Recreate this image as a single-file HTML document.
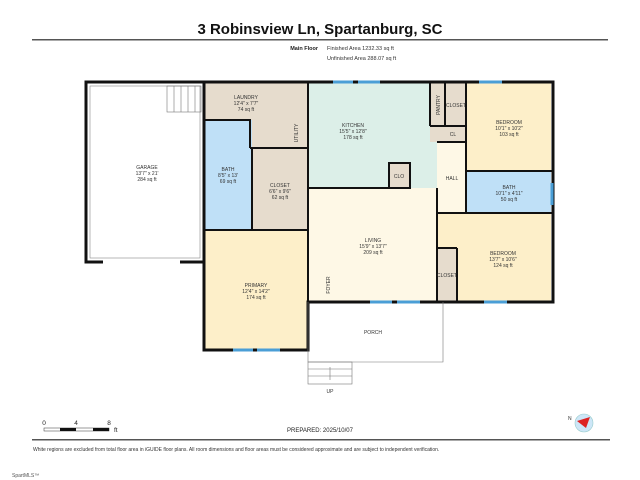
<!DOCTYPE html>
<html><head><meta charset="utf-8"><style>
body{margin:0;background:#fff;width:640px;height:480px;overflow:hidden}
svg{display:block;font-family:"Liberation Sans",sans-serif}
.l{font-size:5px;fill:#333;text-anchor:middle}
</style></head><body>
<svg width="640" height="480" viewBox="0 0 640 480">
<text x="320" y="34" font-size="15" font-weight="bold" text-anchor="middle" fill="#111">3 Robinsview Ln, Spartanburg, SC</text>
<rect x="32" y="39" width="576" height="1.5" fill="#555"/>
<text x="318" y="50" font-size="5.5" font-weight="bold" text-anchor="end" fill="#222">Main Floor</text>
<text x="327" y="50" font-size="5.5" fill="#333">Finished Area 1232.33 sq ft</text>
<text x="327" y="60" font-size="5.5" fill="#333">Unfinished Area 288.07 sq ft</text>

<rect x="86" y="82" width="118" height="180" fill="#fff"/>
<rect x="204" y="83" width="104" height="65" fill="#e6dccd"/>
<rect x="204" y="120" width="48" height="110" fill="#bfe0f7"/>
<rect x="252" y="148" width="56" height="82" fill="#e6dccd"/>
<rect x="204" y="230" width="104" height="120" fill="#fdefc9"/>
<rect x="308" y="83" width="129" height="105" fill="#dcefe8"/>
<rect x="308" y="188" width="129" height="114" fill="#fef8e6"/>
<rect x="389" y="163" width="21" height="25" fill="#e6dccd"/>
<rect x="430" y="83" width="36" height="59" fill="#e6dccd"/>
<rect x="437" y="142" width="29" height="71" fill="#fef8e6"/>
<rect x="466" y="83" width="85" height="88" fill="#fdefc9"/>
<rect x="466" y="172" width="85" height="41" fill="#bfe0f7"/>
<rect x="437" y="213" width="114" height="89" fill="#fdefc9"/>
<rect x="437" y="248" width="20" height="54" fill="#e6dccd"/>

<g fill="none" stroke="#111" stroke-width="3">
<path d="M103 262 H86 V82 H204 M180 262 H204" stroke-width="3"/>
<rect x="90" y="86" width="110" height="172" stroke="#888" stroke-width="0.6"/>
<path d="M204 82 H553 V302 H308 V350 H204 Z"/>
<path d="M250 148 H308 M252 148 V230 M204 120 H250 V148 M204 230 H308 M308 82 V302 M308 188 H410 V163 H389 V188 M437 188 V302 M437 213 H553 M466 83 V213 M466 171 H553 M430 83 V126 M445 83 V126 M430 126 H466 M437 142 H466 M457 248 V302 M437 248 H457" stroke-width="2"/>
</g>
<g stroke="#4a9ed6" stroke-width="3">
<line x1="233" y1="350" x2="253" y2="350"/><line x1="257" y1="350" x2="280" y2="350"/>
<line x1="333" y1="82" x2="353" y2="82"/><line x1="358" y1="82" x2="380" y2="82"/>
<line x1="479" y1="82" x2="502" y2="82"/>
<line x1="370" y1="302" x2="392" y2="302"/><line x1="397" y1="302" x2="420" y2="302"/>
<line x1="484" y1="302" x2="507" y2="302"/>
<line x1="552" y1="183" x2="552" y2="205"/>
</g>
<g stroke="#777" stroke-width="0.6" fill="none">
<rect x="167" y="86" width="34" height="26"/>
<line x1="174" y1="86" x2="174" y2="112"/><line x1="181" y1="86" x2="181" y2="112"/><line x1="188" y1="86" x2="188" y2="112"/><line x1="195" y1="86" x2="195" y2="112"/>
<path d="M308 302 V362 H443 V302"/>
<rect x="308" y="362" width="44" height="22"/>
<line x1="308" y1="369" x2="352" y2="369"/><line x1="308" y1="376" x2="352" y2="376"/>
<line x1="330" y1="380" x2="330" y2="367"/>
</g>
<text class="l" x="147" y="169">GARAGE</text><text class="l" x="147" y="175">13'7" x 21'</text><text class="l" x="147" y="181">284 sq ft</text>
<text class="l" x="246" y="99">LAUNDRY</text><text class="l" x="246" y="105">12'4" x 7'7"</text><text class="l" x="246" y="111">74 sq ft</text>
<text class="l" x="228" y="171">BATH</text><text class="l" x="228" y="177">8'5" x 13'</text><text class="l" x="228" y="183">69 sq ft</text>
<text class="l" x="280" y="187">CLOSET</text><text class="l" x="280" y="193">6'6" x 9'6"</text><text class="l" x="280" y="199">62 sq ft</text>
<text class="l" x="256" y="287">PRIMARY</text><text class="l" x="256" y="293">12'4" x 14'2"</text><text class="l" x="256" y="299">174 sq ft</text>
<text class="l" x="353" y="127">KITCHEN</text><text class="l" x="353" y="133">15'5" x 12'8"</text><text class="l" x="353" y="139">178 sq ft</text>
<text class="l" x="399" y="178">CLO</text>
<text class="l" x="373" y="242">LIVING</text><text class="l" x="373" y="248">15'9" x 13'7"</text><text class="l" x="373" y="254">209 sq ft</text>
<text class="l" x="452" y="180">HALL</text><text class="l" x="453" y="136">CL</text>
<text class="l" x="456" y="107" font-size="4">CLOSET</text>
<text class="l" x="509" y="124">BEDROOM</text><text class="l" x="509" y="130">10'1" x 10'2"</text><text class="l" x="509" y="136">103 sq ft</text>
<text class="l" x="509" y="189">BATH</text><text class="l" x="509" y="195">10'1" x 4'11"</text><text class="l" x="509" y="201">50 sq ft</text>
<text class="l" x="503" y="255">BEDROOM</text><text class="l" x="503" y="261">13'7" x 10'6"</text><text class="l" x="503" y="267">124 sq ft</text>
<text class="l" x="447" y="277" font-size="4">CLOSET</text>
<text class="l" x="373" y="334">PORCH</text>
<text class="l" x="330" y="393">UP</text>
<text class="l" transform="translate(330,285) rotate(-90)">FOYER</text>
<text class="l" transform="translate(298,133) rotate(-90)">UTILITY</text>
<text class="l" transform="translate(440,105) rotate(-90)">PANTRY</text>
<text x="44" y="425" font-size="6.5" fill="#222" text-anchor="middle">0</text>
<text x="76" y="425" font-size="6.5" fill="#222" text-anchor="middle">4</text>
<text x="109" y="425" font-size="6.5" fill="#222" text-anchor="middle">8</text>
<rect x="44" y="428" width="65" height="3" fill="#fff" stroke="#333" stroke-width="0.5"/>
<rect x="60" y="428" width="16" height="3" fill="#111"/><rect x="93" y="428" width="16" height="3" fill="#111"/>
<text x="114" y="432" font-size="6.5" fill="#222">ft</text>
<text x="320" y="432" font-size="6" fill="#222" text-anchor="middle">PREPARED: 2025/10/07</text>
<circle cx="584" cy="423" r="9" fill="#cde6f7" stroke="#9cc" stroke-width="0.6"/>
<polygon points="577,421 590,417 586,428" fill="#d22"/>
<text x="568" y="420" font-size="5" fill="#333">N</text>
<rect x="32" y="439" width="578" height="1.5" fill="#555"/>
<text x="33" y="451" font-size="5" fill="#333">White regions are excluded from total floor area in iGUIDE floor plans. All room dimensions and floor areas must be considered approximate and are subject to independent verification.</text>
<text x="12" y="477" font-size="5" fill="#555">SpartMLS™</text>
</svg>
</body></html>
